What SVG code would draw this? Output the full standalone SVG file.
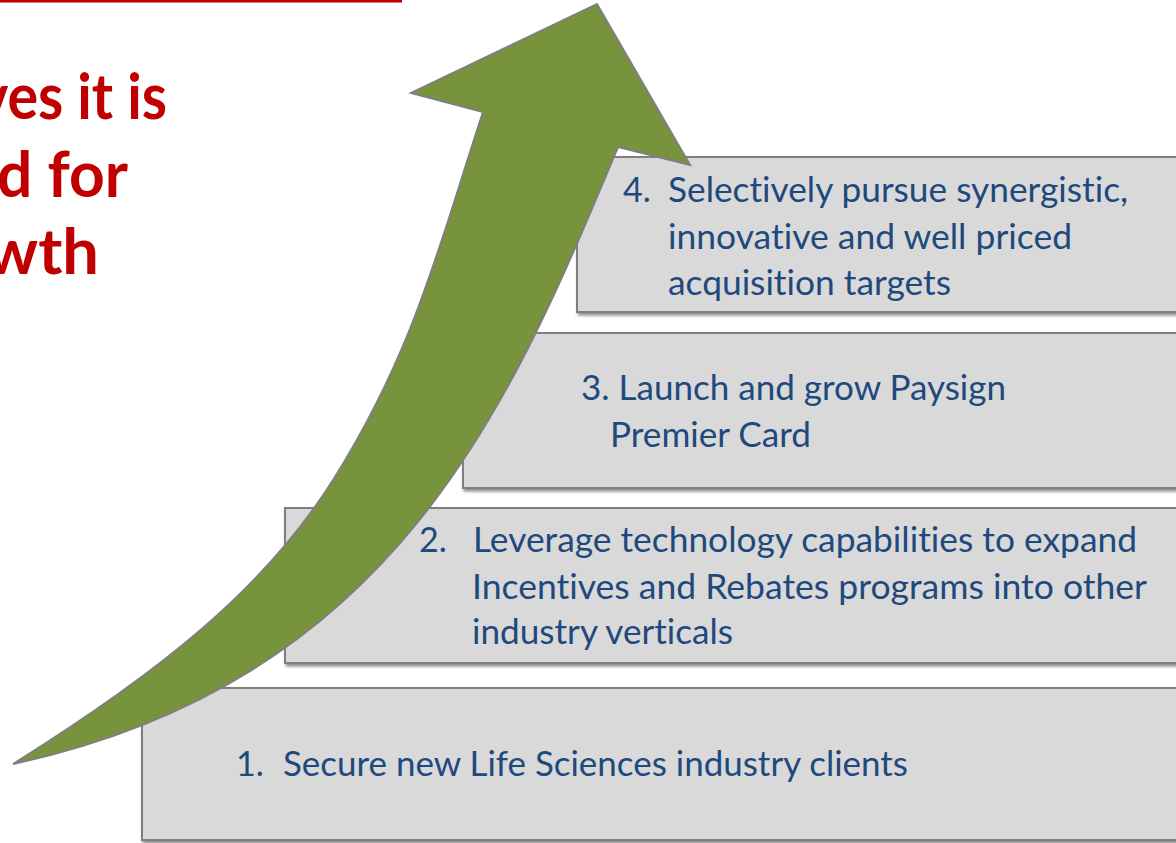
<svg xmlns="http://www.w3.org/2000/svg" width="1176" height="843" viewBox="0 0 1176 843">
  <defs>
    <filter id="shadow" x="-5%" y="-10%" width="115%" height="130%">
      <feDropShadow dx="1.5" dy="2.5" stdDeviation="1.6" flood-color="#000" flood-opacity="0.45"/>
    </filter>
    <style>
      .step { fill: #D9D9D9; stroke: #7F7F7F; stroke-width: 2; }
      .lbl { font-family: Lato, "Liberation Sans", sans-serif; font-size: 34px; fill: #1F497D; font-variant-ligatures: none; }
      .head { font-family: Lato, "Liberation Sans", sans-serif; font-size: 64px; font-weight: bold; fill: #C00000; font-variant-ligatures: none; }
      .arrow { fill: #77933C; stroke: #7F7F7F; stroke-width: 2; stroke-linejoin: miter; }
    </style>
  </defs>
  <rect width="1176" height="843" fill="#FFFFFF"/>

  <g id="title">
    <rect x="0" y="0" width="402" height="2.5" fill="#C00000"/>
    <text class="head" x="-22" y="119" textLength="189" lengthAdjust="spacingAndGlyphs">ves it is</text>
    <text class="head" x="-3" y="197" textLength="131" lengthAdjust="spacingAndGlyphs">d for</text>
    <text class="head" x="-14" y="274" textLength="113" lengthAdjust="spacingAndGlyphs">wth</text>
  </g>

  <g id="step1">
    <rect class="step" x="142" y="688" width="1050" height="152" filter="url(#shadow)"/>
    <text class="lbl" x="236" y="776">1.</text>
    <text class="lbl" x="283" y="776" textLength="625" lengthAdjust="spacingAndGlyphs">Secure new Life Sciences industry clients</text>
  </g>

  <g id="step2">
    <rect class="step" x="285" y="508" width="910" height="155" filter="url(#shadow)"/>
    <text class="lbl" x="419" y="552">2.</text>
    <text class="lbl" x="473" y="552" textLength="664" lengthAdjust="spacingAndGlyphs">Leverage technology capabilities to expand</text>
    <text class="lbl" x="472" y="599" textLength="675" lengthAdjust="spacingAndGlyphs">Incentives and Rebates programs into other</text>
    <text class="lbl" x="472" y="644" textLength="261" lengthAdjust="spacingAndGlyphs">industry verticals</text>
  </g>

  <g id="step3">
    <rect class="step" x="463" y="333" width="730" height="155" filter="url(#shadow)"/>
    <text class="lbl" x="581" y="400" textLength="425" lengthAdjust="spacingAndGlyphs">3. Launch and grow Paysign</text>
    <text class="lbl" x="610" y="447" textLength="201" lengthAdjust="spacingAndGlyphs">Premier Card</text>
  </g>

  <g id="step4">
    <rect class="step" x="577" y="157" width="620" height="155" filter="url(#shadow)"/>
    <text class="lbl" x="623" y="202">4.</text>
    <text class="lbl" x="668" y="202" textLength="460" lengthAdjust="spacingAndGlyphs">Selectively pursue synergistic,</text>
    <text class="lbl" x="668" y="249" textLength="404" lengthAdjust="spacingAndGlyphs">innovative and well priced</text>
    <text class="lbl" x="668" y="295" textLength="283" lengthAdjust="spacingAndGlyphs">acquisition targets</text>
  </g>

  <g id="connectors">
    <path id="growth-arrow" class="arrow" d="M597,4 L690,165 L618,147 C513,397 400,680 13,764 C157,674 264,590 333,480 C415,350 440,242 483,112 L411,93 Z"/>
  </g>
</svg>
